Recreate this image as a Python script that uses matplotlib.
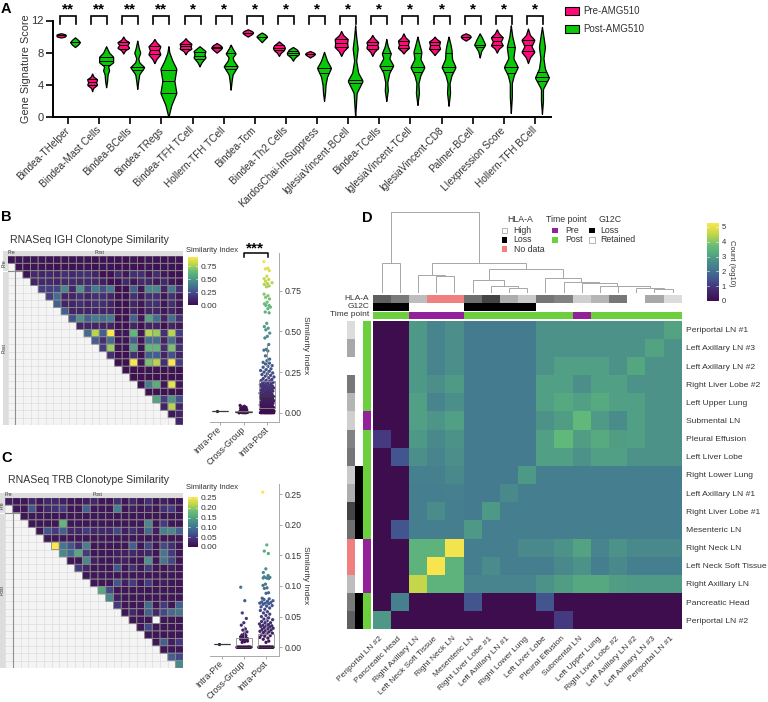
import numpy as np
import matplotlib
matplotlib.use("Agg")
import matplotlib.pyplot as plt
from matplotlib.patches import Rectangle
from matplotlib.colors import LinearSegmentedColormap
from matplotlib.transforms import ScaledTranslation

plt.rcParams['font.family'] = ['Liberation Sans', 'DejaVu Sans']
W, H = 768, 702
TXT = '#333333'

# Colour scale as it appears in the picture (muted viridis)
CMAP_POS = [0, .2, .28, .42, .52, .6, .7, .86, 1]
CMAP_RGB = [(62, 13, 78), (69, 58, 127), (66, 86, 143), (68, 123, 143), (76, 146, 137), (85, 168, 128),
            (100, 187, 122), (195, 215, 75), (251, 230, 78)]
CMAP = LinearSegmentedColormap.from_list(
    'muted', [(p, tuple(v / 255 for v in c)) for p, c in zip(CMAP_POS, CMAP_RGB)])

# ---------- Panel A data ----------
GENESETS = ['Bindea-THelper', 'Bindea-Mast Cells', 'Bindea-BCells', 'Bindea-TRegs', 'Bindea-TFH TCell',
            'Hollern-TFH TCell', 'Bindea-Tcm', 'Bindea-Th2 Cells', 'KardosChai-ImSuppress', 'IglesiaVincent-BCell',
            'Bindea-TCells', 'IglesiaVincent-TCell', 'IglesiaVincent-CD8', 'Palmer-BCell', 'LIexpression Score',
            'Hollern-TFH BCell']
SIG_A = ['**', '**', '**', '**', '*', '*', '*', '*', '*', '*', '*', '*', '*', '*', '*', '*']
PRE_Y = [[9.9, 10.0, 10.3, 10.4], [3.2, 3.6, 4.0, 4.3, 4.7, 5.0, 5.4], [7.9, 8.3, 8.6, 8.95, 9.3, 9.6, 10.0],
         [6.7, 7.2, 7.8, 8.3, 8.8, 9.3, 9.7], [7.8, 8.2, 8.5, 8.8, 9.1, 9.5, 9.8], [8.0, 8.4, 8.65, 8.9, 9.2],
         [10.0, 10.3, 10.5, 10.7, 10.9], [7.6, 8.0, 8.3, 8.6, 8.9, 9.4], [7.4, 7.7, 7.85, 8.0, 8.2],
         [7.6, 8.2, 8.7, 9.2, 9.7, 10.2, 10.7], [7.6, 8.1, 8.6, 9.0, 9.3, 9.8, 10.2],
         [7.9, 8.2, 8.6, 9.0, 9.5, 9.9, 10.4], [7.7, 8.0, 8.5, 8.9, 9.4, 9.7, 10.0], [9.5, 9.8, 10.0, 10.2, 10.4],
         [8.0, 8.5, 8.9, 9.4, 9.9, 10.4, 10.9], [6.7, 7.4, 8.1, 8.8, 9.6, 10.2, 11.0]]
PRE_W = [[0, 4.5, 4.5, 0], [0, 1, 5, 4, 5, 1.5, 0], [0, 2, 6, 4, 6, 2, 0], [0, 2, 6, 4.5, 6, 2, 0],
         [0, 2, 6, 5, 6, 2, 0], [0, 4, 5.5, 4, 0], [0, 4, 5.5, 4, 0], [0, 2, 5, 6, 5, 0], [0, 4, 5, 4, 0],
         [0, 2.5, 6.5, 6, 6.5, 2, 0], [0, 2, 6, 5, 6, 2, 0], [0, 2, 5.5, 4.5, 5.5, 2, 0], [0, 2, 5.5, 4.5, 5.5, 2, 0],
         [0, 4, 5, 4, 0], [0, 2, 6, 4, 6, 2, 0], [0, 2, 6.5, 3.5, 6.5, 2, 0]]
PRE_Q = [[10.15], [3.95, 4.3, 4.7], [8.5, 8.95, 9.3], [7.8, 8.3, 8.8], [8.4, 8.8, 9.1], [8.6, 8.75], [10.45],
         [8.3, 8.6, 8.9], [7.85], [8.7, 9.2, 9.7], [8.5, 9.0, 9.3], [8.6, 9.0, 9.5], [8.5, 8.9, 9.3], [10.0],
         [8.9, 9.4, 9.9], [8.2, 8.9, 9.6]]
POST_Y = [[8.7, 9.0, 9.3, 9.6, 9.9], [3.7, 4.5, 5.3, 5.8, 6.3, 6.8, 7.5, 8.0, 8.8],
          [3.5, 4.5, 5.3, 6.2, 6.8, 7.3, 8.0, 8.6, 9.5], [0.0, 1.5, 3.0, 4.5, 6.0, 7.0, 8.0, 8.8],
          [6.3, 6.8, 7.4, 7.8, 8.2, 8.8], [3.4, 4.5, 5.3, 6.3, 7.0, 7.4, 7.9, 8.5, 9.0],
          [9.3, 9.7, 10.0, 10.3, 10.5], [7.0, 7.4, 7.8, 8.0, 8.4, 8.7], [2.0, 3.0, 4.0, 5.0, 6.1, 7.0, 8.1],
          [0.0, 2.0, 3.0, 4.5, 5.5, 7.0, 8.5, 10.0, 11.4], [2.0, 3.3, 4.3, 5.5, 6.4, 7.3, 7.9, 8.8, 9.7],
          [1.5, 3.0, 4.2, 5.2, 6.2, 7.2, 8.1, 9.0, 10.0], [1.4, 3.0, 4.2, 5.2, 6.2, 7.2, 8.3, 9.0, 10.0],
          [7.4, 8.2, 9.0, 9.7, 10.4], [0.5, 2.5, 4.2, 5.2, 6.2, 7.3, 8.7, 10.0, 11.4],
          [0.4, 2.0, 3.5, 4.9, 6.0, 7.3, 8.7, 10.0, 11.2]]
POST_W = [[0, 3, 5, 3, 0], [0, 1, 1.5, 3, 2, 7, 7, 3, 0], [0, 1, 2, 7, 2, 1, 3, 1.5, 0], [0, 3, 8, 6, 8, 4, 1, 0],
          [0, 2, 6, 5, 6, 0], [0, 1, 2, 7, 3, 2, 5, 2, 0], [0, 3, 5.5, 3, 0], [0, 2, 6, 6, 4, 0], [0, 1, 1.5, 3, 7, 3, 0],
          [0, 1, 1.5, 7.5, 3, 1, 2.5, 1, 0], [0, 1.5, 1, 3, 7, 3, 4.5, 1.5, 0], [0, 1.5, 1, 3, 7, 3, 4, 2, 0],
          [0, 1.5, 1, 3, 7, 3.5, 3, 2, 0], [0, 1.5, 5.5, 3, 0], [0, 1, 1, 3, 7, 2.5, 4, 1.5, 0], [0, 1, 1, 7, 3, 1.5, 3, 1.5, 0]]
POST_Q = [[9.3], [6.5, 7.0, 7.5], [5.9, 6.2], [3.0, 4.5, 5.9], [7.2, 7.6, 8.1], [6.0, 6.4, 7.9], [10.0],
          [7.7, 8.0, 8.2], [5.5, 6.1], [4.2, 4.6], [5.9, 6.3, 7.9], [5.6, 6.2, 8.0], [5.6, 6.2, 7.9], [8.7, 9.0],
          [5.5, 6.2, 8.7], [4.5, 5.0, 5.6]]

# ---------- Panel B data ----------
IGH_ROWS = [
 [.03,.03,.03,.03,.03,.03,.03,.03,.03,.03,.03,.02,.03,.02,.02,.02,.04,.02,.04,.03,.02,.03,.03],
 [.02,.02,.03,.03,.03,.02,.03,.02,.03,.03,.02,.03,.03,.02,.02,.03,.02,.04,.02,.03,.03,.02],
 [.03,.12,.1,.12,.1,.15,.12,.15,.15,.1,.02,.02,.13,.05,.15,.14,.05,.13,.05,.02,.02],
 [.1,.12,.12,.1,.12,.12,.12,.12,.12,.08,.02,.02,.12,.04,.12,.12,.05,.12,.05,.02],
 [.2,.2,.22,.45,.12,.5,.2,.4,.25,.4,.02,.02,.3,.05,.45,.45,.1,.4,.15],
 [.2,.35,.1,.1,.15,.1,.15,.15,.1,.02,.02,.15,.05,.15,.15,.05,.15,.05],
 [.3,.1,.1,.15,.1,.15,.15,.1,.02,.02,.1,.05,.15,.15,.05,.15,.05],
 [.3,.1,.1,.1,.1,.1,.1,.02,.02,.1,.02,.1,.1,.05,.1,.05],
 [.25,.5,.3,.4,.35,.4,.02,.02,.3,.05,.55,.35,.1,.35,.15],
 [.1,.1,.1,.1,.1,.02,.02,.1,.02,.1,.1,.02,.1,.05],
 [.35,.8,.3,.95,.05,.05,.65,.05,.8,.75,.15,.8,.2],
 [.3,.15,.35,.03,.03,.3,.03,.35,.35,.1,.35,.1],
 [.2,.75,.03,.03,.55,.03,.65,.65,.15,.7,.15],
 [.15,.02,.02,.15,.02,.3,.3,.1,.25,.1],
 [.02,.02,.95,.05,.7,.8,.15,.95,.2],
 [.02,.02,.02,.03,.03,.02,.03,.02],
 [.02,.02,.02,.02,.02,.02,.02],
 [.02,.4,.6,.05,.9,.05],
 [.02,.02,.02,.02,.02],
 [.55,.2,.5,.25],
 [.1,.8,.1],
 [.05,.1],
 [.1]]
IGH_PRE = [0.008]
IGH_CROSS = [.045, .04, .036, .033, .03, .028, .025, .023, .02, .018, .016, .015, .013, .012, .011, .01, .01, .009,
             .008, .007, .006, .006, .005, .005, .004, .004, .003, .003, .002, .002, .001, .001, 0, 0, 0, 0]
IGH_POST = [.93, .89, .885, .875, .84, .825, .82, .81, .80, .795, .79, .78, .775, .73, .72, .71, .70, .68, .67, .66,
            .66, .65, .64, .62, .615, .55, .53, .52, .51, .49, .47, .46, .42, .39, .385, .38, .35, .33, .32, .31, .305,
            .30, .29, .285, .28, .27, .265, .26, .255, .25, .245, .24, .235, .23, .225, .22, .215, .21, .205, .20, .198,
            .195, .19, .187, .184, .18, .178, .175, .172, .17, .168, .165, .163, .16, .158, .155, .153, .15, .148, .145,
            .143, .14, .138, .135, .133, .13, .128, .125, .123, .12, .118, .115, .113, .11, .108, .105, .103, .10, .098,
            .096, .094, .092, .09, .088, .086, .084, .082, .08, .078, .076, .074, .072, .07, .068, .066, .064, .062, .06,
            .058, .056, .054, .052, .05, .048, .046, .044, .042, .04, .038, .036, .034, .032, .03, .028, .026, .024, .022,
            .02, .019, .018, .016, .015, .014, .012, .011, .01, .009, .008, .007, .006, .005, .004, .003, .002, .001,
            0, 0, 0, 0, 0, 0, 0, 0, 0, 0, 0, 0]
IGH_Q1 = [.008, .002, .03]
IGH_MED = [.008, .005, .10]
IGH_Q3 = [.008, .008, .195]
IGH_HI = [.008, .012, .42]

# ---------- Panel C data ----------
TRB_ROWS = [
 [.02,.01,.01,.03,.01,.03,.03,.02,.01,.01,.02,.03,.01,.01,.04,.01,.03,.01,.04,.01,.02,.01,.01],
 [.01,.01,.07,.01,.03,.04,.05,.01,.01,.08,.01,.01,.01,.11,.01,.02,.01,.02,.01,.04,.05,.01],
 [.01,.01,.01,.01,.01,.01,.01,.01,.01,.01,.01,.01,.01,.01,.01,.01,.01,.01,.01,.01,.01],
 [.01,.01,.01,.01,.17,.01,.01,.01,.01,.01,.01,.01,.01,.01,.01,.12,.01,.05,.01,.01],
 [.01,.07,.05,.08,.03,.03,.05,.03,.03,.03,.06,.02,.04,.02,.09,.02,.11,.12,.08],
 [.01,.01,.01,.01,.01,.01,.01,.01,.01,.01,.01,.01,.01,.01,.01,.01,.01,.01],
 [.25,.1,.07,.04,.11,.01,.01,.01,.01,.01,.08,.01,.06,.01,.06,.04,.01],
 [.12,.09,.15,.05,.01,.01,.01,.02,.02,.03,.02,.03,.01,.1,.05,.01],
 [.01,.01,.12,.02,.01,.01,.02,.02,.01,.01,.13,.01,.1,.06,.01],
 [.05,.03,.01,.01,.01,.07,.01,.04,.01,.05,.01,.01,.02,.01],
 [.01,.01,.01,.01,.01,.01,.01,.01,.01,.01,.01,.01,.01],
 [.01,.01,.01,.07,.02,.05,.01,.05,.01,.02,.01,.01],
 [.15,.06,.01,.01,.01,.01,.01,.01,.01,.01,.01],
 [.12,.02,.01,.01,.01,.01,.01,.01,.01,.01],
 [.05,.01,.01,.01,.09,.01,.05,.01,.08],
 [.01,.03,.01,.08,.03,.06,.09,.1],
 [.01,.01,.01,np.nan,.01,.01,.01],
 [.01,.06,.01,.01,.01,.01],
 [.01,.01,.01,.01,.01],
 [.01,.08,.02,.05],
 [.01,.01,.01],
 [.08,.06],
 [.12]]
TRB_PRE = [0.006]
TRB_CROSS = [.098, .076, .056, .047, .04, .036, .03, .028, .025, .022, .02, .019, .018, .017, .016, .015, .014, .014,
             .013, .012, .011, .01, .009, .008] + [0] * 22
TRB_POST = [.253, .167, .157, .153, .128, .122, .117, .115, .114, .113, .113, .112, .103, .101, .097, .096, .089, .088,
            .080, .079, .078, .076, .075, .074, .073, .072, .072, .071, .070, .068, .067, .066, .064, .062, .06, .058,
            .056, .054, .052, .05, .048, .046, .045, .043, .042, .04, .04, .038, .037, .036, .035, .035, .034, .033,
            .032, .031, .03, .029, .028, .027, .026, .025, .024, .023, .022, .02, .019, .018, .016, .015, .013, .01,
            .008] + [0] * 26
TRB_Q1 = [.006, 0, 0]
TRB_MED = [.006, 0, 0]
TRB_Q3 = [.006, .015, .022]
TRB_HI = [.006, .035, .05]
CATS = ['Intra-Pre', 'Cross-Group', 'Intra-Post']

# ---------- Panel D data ----------
COLS_D = ['Periportal LN #2', 'Pancreatic Head', 'Right Axillary LN', 'Left Neck Soft Tissue', 'Right Neck LN',
          'Mesenteric LN', 'Right Liver Lobe #1', 'Left Axillary LN #1', 'Right Lower Lung', 'Left Liver Lobe',
          'Pleural Effusion', 'Submental LN', 'Left Upper Lung', 'Right Liver Lobe #2', 'Left Axillary LN #2',
          'Left Axillary LN #3', 'Periportal LN #1']
ROWS_D = COLS_D[::-1]
COUNTS = [
 [0,0,2.7,2.3,2.5,2.1,2.1,2.1,2.1,2.6,2.6,2.6,2.6,2.6,2.6,2.6,2.9],
 [0,0,2.7,2.3,2.5,2.1,2.1,2.1,2.1,2.6,2.6,2.6,2.6,2.6,2.6,2.9,2.6],
 [0,0,2.7,2.3,2.5,2.1,2.1,2.1,2.1,2.6,2.85,2.85,2.85,2.6,2.95,2.6,2.6],
 [0,0,2.7,2.5,2.75,2.1,2.1,2.1,2.1,2.85,2.85,2.5,2.85,2.85,2.6,2.6,2.6],
 [0,0,2.85,2.3,2.5,2.1,2.1,2.1,2.1,2.85,3.0,2.85,3.05,2.85,2.85,2.6,2.6],
 [0,0,2.85,2.65,2.85,2.1,2.1,2.1,2.1,2.6,2.8,3.4,2.75,2.45,2.85,2.6,2.6],
 [1.0,0,2.7,2.4,2.6,2.1,2.1,2.1,2.1,2.85,3.4,2.8,3.05,2.8,2.85,2.6,2.6],
 [0,1.4,2.5,2.3,2.5,2.1,2.1,2.1,2.1,2.85,2.85,2.6,2.85,2.85,2.6,2.6,2.6],
 [0,0,2.2,2.2,2.4,2.1,2.1,2.1,2.7,2.15,2.15,2.15,2.15,2.15,2.15,2.15,2.15],
 [0,0,2.15,2.15,2.2,2.1,2.1,2.4,2.15,2.15,2.15,2.15,2.15,2.15,2.15,2.15,2.15],
 [0,0,2.15,2.45,2.15,2.1,2.7,2.15,2.15,2.15,2.15,2.15,2.15,2.15,2.15,2.15,2.15],
 [0,1.4,2.15,2.15,2.15,2.7,2.15,2.15,2.15,2.15,2.15,2.15,2.15,2.15,2.15,2.15,2.15],
 [0,0,3.3,3.3,4.9,2.15,2.15,2.15,2.4,2.4,2.6,2.9,2.3,2.6,2.4,2.4,2.4],
 [0,0,3.3,4.95,3.3,2.15,2.45,2.15,2.15,2.15,2.4,2.6,2.15,2.4,2.15,2.15,2.15],
 [0,0,4.3,3.3,3.3,2.3,2.3,2.3,2.3,2.6,2.8,3.0,3.0,2.8,2.75,2.75,2.75],
 [0,2.2,0,0,0,1.4,0,0,0,1.4,0,0,0,0,0,0,0],
 [2.7,0,0,0,0,0,0,0,0,0,1.0,0,0,0,0,0,0]]
HLA = ['#5f5f5f', '#7a7a7a', '#bdbdbd', '#f08080', '#f08080', '#6e6e6e', '#444444', '#adadad', '#cacaca', '#757575',
       '#828282', '#cfcfcf', '#b5b5b5', '#777777', '#ffffff', '#a8a8a8', '#dcdcdc']
G12C = ['#000000', '#000000', '#ffffff', '#ffffff', '#ffffff', '#000000', '#000000', '#000000', '#000000', '#ffffff',
        '#ffffff', '#ffffff', '#ffffff', '#ffffff', '#ffffff', '#ffffff', '#ffffff']
PURPLE, GREEN = '#92219a', '#6ccf3e'
TIMEPOINT = [GREEN, GREEN, PURPLE, PURPLE, PURPLE, GREEN, GREEN, GREEN, GREEN, GREEN, GREEN, PURPLE, GREEN, GREEN,
             GREEN, GREEN, GREEN]
# merges: (left node, right node, height); ids 0-16 are leaves, 17+ are merges in order
MERGES = [(0, 1, .354), (3, 4, .192), (2, 18, .208), (7, 8, .042), (6, 20, .075), (5, 21, .142),
          (15, 16, .029), (14, 23, .042), (13, 24, .071), (12, 25, .075), (11, 26, .104), (10, 27, .117),
          (9, 28, .167), (22, 29, .279), (19, 30, .362), (17, 31, 1.0)]


# ---------- helpers ----------
fig = plt.figure(figsize=(W / 100, H / 100), dpi=100)


def axpx(x0, y0, x1, y1, **kw):
    return fig.add_axes([x0 / W, 1 - y1 / H, (x1 - x0) / W, (y1 - y0) / H], **kw)


def ftext(x, y, s, **kw):
    kw.setdefault('color', TXT)
    kw.setdefault('va', 'center')
    return fig.text(x / W, 1 - y / H, s, **kw)


def frect(x0, y0, x1, y1, fc, ec='none', lw=0):
    fig.add_artist(Rectangle((x0 / W, 1 - y1 / H), (x1 - x0) / W, (y1 - y0) / H, facecolor=fc, edgecolor=ec,
                             linewidth=lw, transform=fig.transFigure))


def shift_labels(labels, dx_px):
    off = ScaledTranslation(dx_px / 100, 0, fig.dpi_scale_trans)
    for lab in labels:
        lab.set_transform(lab.get_transform() + off)


PX = 1 / 31.13


def violin(ax, xc, ys, ws, qs, color):
    ys, ws = np.array(ys, float), np.array(ws, float) * PX
    # round the outline of the sketched profile
    yy = np.linspace(ys[0], ys[-1], 121)
    ww = np.interp(yy, ys, ws)
    k = max(3, int(0.15 / (yy[1] - yy[0])) | 1)
    pad = np.pad(ww, k // 2, mode='edge')
    ww = np.convolve(pad, np.ones(k) / k, mode='valid')
    ww[0] = ww[-1] = 0
    ax.fill_betweenx(yy, xc - ww, xc + ww, facecolor=color, edgecolor='black', linewidth=0.9, zorder=3, clip_on=False)
    for q in qs:
        w = np.interp(q, yy, ww)
        ax.plot([xc - w, xc + w], [q, q], color='black', lw=0.7, zorder=4, solid_capstyle='butt')


# ---------- Panel A ----------
ax = axpx(52.7, 20.5, 551, 117)
for i in range(len(GENESETS)):
    violin(ax, i - 7 * PX, PRE_Y[i], PRE_W[i], PRE_Q[i], '#ff0a78')
    violin(ax, i + 7 * PX, POST_Y[i], POST_W[i], POST_Q[i], '#09c909')
    ax.plot([i - 8 * PX, i - 8 * PX, i + 8 * PX, i + 8 * PX], [11.55, 12.55, 12.55, 11.55], color='black', lw=1.2,
            clip_on=False, solid_joinstyle='miter')
    ax.text(i, 12.45, SIG_A[i], ha='center', va='bottom', fontsize=11, fontweight='bold', color='black')
ax.set_xlim((52.7 - 68) / 31.13, (551 - 68) / 31.13)
ax.set_ylim(0, 12)
ax.set_yticks([0, 4, 8, 12])
ax.set_xticks(range(len(GENESETS)))
ax.set_xticklabels(GENESETS, rotation=45, ha='right', va='center', rotation_mode='anchor', fontsize=7.2, color=TXT)
shift_labels(ax.get_xticklabels(), 2)
ax.tick_params(axis='x', length=5, width=1.2, pad=3.5)
ax.tick_params(axis='y', length=5, width=1.2, pad=1.5, labelsize=8, labelcolor=TXT)
for s in ['top', 'right']:
    ax.spines[s].set_visible(False)
for s in ['left', 'bottom']:
    ax.spines[s].set_linewidth(1.4)
ax.set_ylabel('Gene Signature Score', fontsize=7.8, color=TXT, labelpad=0)

frect(564.5, 7, 578.5, 14.5, '#ff0a78', 'black', 0.8)
frect(564.5, 25, 578.5, 32.5, '#09c909', 'black', 0.8)
ftext(583, 10.5, 'Pre-AMG510', fontsize=7)
ftext(583, 29, 'Post-AMG510', fontsize=7)

for label, x, y in [('A', 1, 9), ('B', 1, 217), ('C', 1, 458), ('D', 362, 218)]:
    ftext(x, y, label, fontsize=10.5, fontweight='bold', color='black')


# ---------- Panels B, C heatmaps ----------
def tri_heat(rows, x0, y0, x1, y1, vmax):
    n = len(rows)
    m = np.full((n, n), np.nan)
    for r, vals in enumerate(rows):
        m[r, r:] = vals
    ax = axpx(x0, y0, x1, y1)
    ax.set_facecolor('#f4f4f4')
    ax.set_xticks(range(n + 1))
    ax.set_yticks(range(n + 1))
    ax.grid(True, color='#dcdcdc', lw=0.5, zorder=0)
    ax.set_axisbelow(True)
    ax.tick_params(length=0, labelbottom=False, labelleft=False)
    ax.pcolor(np.arange(n + 1), np.arange(n + 1), np.ma.masked_invalid(m), cmap=CMAP, vmin=0, vmax=vmax,
              edgecolors='#8a8a8a', linewidth=0.6, zorder=2)
    ax.set_xlim(0, n)
    ax.set_ylim(n, 0)
    ax.axvline(1, color='#8f8f8f', lw=0.8, zorder=1)
    ax.axhline(2, color='#8f8f8f', lw=0.8, zorder=1)
    for s in ax.spines.values():
        s.set_visible(False)
    cw = (x1 - x0) / n
    ch = (y1 - y0) / n
    sz = 4
    frect(x0 - sz - 1, y0 - sz - 1, x0, y0, '#dddddd')
    frect(x0, y0 - sz - 1, x0 + cw, y0, '#dddddd')
    frect(x0 + cw, y0 - sz - 1, x1, y0, '#dddddd')
    frect(x0 - sz - 1, y0, x0, y0 + 2 * ch, '#dddddd')
    frect(x0 - sz - 1, y0 + 2 * ch + 1, x0, y1, '#dddddd')
    ftext(x0 + cw / 2, y0 - 3, 'Pre', fontsize=3.5, ha='center')
    ftext((x0 + cw + x1) / 2, y0 - 3, 'Post', fontsize=3.5, ha='center')
    ftext(x0 - 3, y0 + ch, 'Pre', fontsize=3.5, ha='center', rotation=90)
    ftext(x0 - 3, (y0 + 2 * ch + y1) / 2, 'Post', fontsize=3.5, ha='center', rotation=90)


tri_heat(IGH_ROWS, 7.6, 256, 183.3, 425, 0.95)
tri_heat(TRB_ROWS, 5, 497.7, 183.3, 668, 0.25)
ftext(10, 240, 'RNASeq IGH Clonotype Similarity', fontsize=7.6)
ftext(8, 480, 'RNASeq TRB Clonotype Similarity', fontsize=7.6)


def cbar(x0, y0, x1, y1, vmin, vmax, ticks, fmt, title=None, ty=None, lab=6):
    ax = axpx(x0, y0, x1, y1)
    grad = np.linspace(vmax, vmin, 256)[:, None]
    ax.imshow(grad, aspect='auto', cmap=CMAP, vmin=vmin, vmax=vmax, extent=[0, 1, vmin, vmax])
    ax.set_xticks([])
    ax.yaxis.tick_right()
    ax.set_yticks(ticks)
    ax.set_yticklabels([fmt % t for t in ticks], fontsize=lab, color=TXT)
    ax.tick_params(axis='y', length=0, pad=2)
    for s in ax.spines.values():
        s.set_visible(False)
    for t in ticks:
        ax.plot([0, .2], [t, t], color='white', lw=0.4)
        ax.plot([.8, 1], [t, t], color='white', lw=0.4)
    ax.set_xlim(0, 1)
    ax.set_ylim(vmin, vmax)
    if title:
        ftext(x0 - 2, ty, title, fontsize=5.5)


cbar(188, 257, 198, 305, 0, 0.935, [0, .25, .5, .75], '%.2f', 'Similarity Index', 250.5)
cbar(187.5, 497, 197.5, 547, -0.001, 0.255, [0, .05, .1, .15, .2, .25], '%.2f', 'Similarity Index', 487.5)


# ---------- strip plots ----------
def jitter(vals, spread):
    # low-discrepancy spread, narrowed where the points are sparse
    vals = np.asarray(vals, float)
    rng = max(vals.max(), 1e-6)
    seq = (np.arange(len(vals)) * 0.618034) % 1 - 0.5
    counts = np.array([(np.abs(vals - v) < 0.03 * rng).sum() for v in vals])
    return seq * 2 * spread * np.clip(counts / 10, 0.45, 1)


def strip(px, xlim, ylim, groups, q1, med, q3, hi, vmax, yticks, spreads, ytickfmt):
    ax = axpx(*px)
    for i, vals in enumerate(groups):
        ax.scatter(i + jitter(vals, spreads[i]), vals, c=vals, cmap=CMAP, vmin=0, vmax=vmax, s=5.5,
                   linewidths=0, zorder=2, clip_on=False)
    stats = [dict(med=med[i], q1=q1[i], q3=q3[i], whislo=q1[i], whishi=hi[i], fliers=[]) for i in range(3)]
    ax.bxp(stats, positions=[0, 1, 2], widths=0.7, showcaps=False, showfliers=False, manage_ticks=False,
           boxprops=dict(color='#8f8f8f', lw=0.6), whiskerprops=dict(color='#8f8f8f', lw=0.6),
           medianprops=dict(color='#3a3a3a', lw=0.9), zorder=3)
    ax.set_xlim(*xlim)
    ax.set_ylim(*ylim)
    ax.yaxis.tick_right()
    ax.set_yticks(yticks)
    ax.set_yticklabels([ytickfmt % t for t in yticks])
    ax.set_xticks([0, 1, 2])
    ax.set_xticklabels(CATS, rotation=45, ha='right', va='center', rotation_mode='anchor', fontsize=6.3, color=TXT)
    shift_labels(ax.get_xticklabels(), 2)
    ax.tick_params(axis='y', length=2.5, width=0.6, color='#999999', labelsize=6.3, labelcolor=TXT, pad=1.5)
    ax.tick_params(axis='x', length=2.5, width=0.6, color='#999999', pad=2)
    ax.spines['top'].set_visible(False)
    ax.spines['left'].set_visible(False)
    ax.spines['right'].set_color('#aaaaaa')
    ax.spines['bottom'].set_color('#aaaaaa')
    ax.spines['right'].set_linewidth(0.7)
    ax.spines['bottom'].set_linewidth(0.7)
    ax.patch.set_alpha(0)
    return ax


axb = strip((210, 253, 279, 422), (-0.43, 2.51), (-0.057, 0.983), [IGH_PRE, IGH_CROSS, IGH_POST], IGH_Q1, IGH_MED,
            IGH_Q3, IGH_HI, 0.95, [0, .25, .5, .75], [0.3, 0.33, 0.3], '%.2f')
axc = strip((210, 484, 279, 656), (-0.545, 2.59), (-0.0143, 0.2665), [TRB_PRE, TRB_CROSS, TRB_POST], TRB_Q1, TRB_MED,
            TRB_Q3, TRB_HI, 0.25, [0, .05, .1, .15, .2, .25], [0.3, 0.33, 0.33], '%.2f')
ftext(305, 345, 'Similarity Index', fontsize=6.1, rotation=270, ha='center')
ftext(305, 575, 'Similarity Index', fontsize=6.1, rotation=270, ha='center')
axb.plot([1, 1, 2.02, 2.02], [.96, .985, .985, .96], color='black', lw=1.1, clip_on=False)
axb.text(1.5, 0.965, '***', ha='center', va='bottom', fontsize=11, fontweight='bold', color='black')

# ---------- Panel D ----------
HX0, HX1, HY0, HY1 = 372.7, 681.7, 320.7, 629.3
axd = axpx(HX0, HY0, HX1, HY1)
axd.pcolormesh(np.array(COUNTS), cmap=CMAP, vmin=0, vmax=5, edgecolors='none')
axd.set_ylim(17, 0)
axd.set_xlim(0, 17)
axd.yaxis.tick_right()
axd.set_xticks(np.arange(17) + .5)
axd.set_yticks(np.arange(17) + .5)
axd.set_xticklabels(COLS_D, rotation=45, ha='right', va='center', rotation_mode='anchor', fontsize=6, color=TXT)
axd.set_yticklabels(ROWS_D, fontsize=6.1, color=TXT)
axd.tick_params(axis='x', length=0, pad=6)
axd.tick_params(axis='y', length=0, pad=3)
for s in axd.spines.values():
    s.set_visible(False)


def track(x0, y0, x1, y1, colors, vertical=False):
    a = axpx(x0, y0, x1, y1)
    n = len(colors)
    for i, c in enumerate(colors):
        if vertical:
            a.add_patch(Rectangle((0, i), 1, 1, facecolor=c, edgecolor='none'))
        else:
            a.add_patch(Rectangle((i, 0), 1, 1, facecolor=c, edgecolor='none'))
    a.set_xlim(0, 1 if vertical else n)
    a.set_ylim(n if vertical else 1, 0)
    a.axis('off')


track(HX0, 295, HX1, 303, HLA)
track(HX0, 303, HX1, 311, G12C)
track(HX0, 311.5, HX1, 319, TIMEPOINT)
track(346.7, HY0, 354.7, HY1, HLA[::-1], True)
track(354.7, HY0, 362.7, HY1, G12C[::-1], True)
track(362.7, HY0, 371, HY1, TIMEPOINT[::-1], True)
ftext(369, 299, 'HLA-A', fontsize=6, ha='right')
ftext(369, 307, 'G12C', fontsize=6, ha='right')
ftext(369, 315, 'Time point', fontsize=6, ha='right')

axdn = axpx(HX0, 211.7, HX1, 291.7)
axdn.set_xlim(0, 17)
axdn.set_ylim(0, 1)
axdn.axis('off')
node_x = [i + .5 for i in range(17)]
node_h = [0.0] * 17
for l, r, h in MERGES:
    axdn.plot([node_x[l], node_x[l], node_x[r], node_x[r]], [node_h[l], h, h, node_h[r]], color='#a6a6a6', lw=0.7,
              clip_on=False, solid_joinstyle='miter')
    node_x.append((node_x[l] + node_x[r]) / 2)
    node_h.append(h)

# Legend of panel D
ftext(520, 219, 'HLA-A', fontsize=6.3, ha='center')
ftext(566.7, 219, 'Time point', fontsize=6.3, ha='center')
ftext(609.7, 219, 'G12C', fontsize=6.3, ha='center')
for yy, c, ec, s in [(230.7, '#ffffff', '#999999', 'High'), (240, '#000000', 'none', 'Loss'),
                     (249, '#f08080', 'none', 'No data')]:
    frect(501.5, yy - 2.7, 507, yy + 2.7, c, ec, 0.5)
    ftext(513.7, yy, s, fontsize=6.3)
for yy, c, s in [(230.7, PURPLE, 'Pre'), (240, GREEN, 'Post')]:
    frect(552, yy - 2.7, 558, yy + 2.7, c)
    ftext(565, yy, s, fontsize=6.3)
for yy, c, ec, s in [(230.7, '#000000', 'none', 'Loss'), (240, '#ffffff', '#999999', 'Retained')]:
    frect(589, yy - 2.7, 594.7, yy + 2.7, c, ec, 0.5)
    ftext(600.7, yy, s, fontsize=6.3)

cbar(706.7, 223, 718.7, 301, 0, 5.27, [0, 1, 2, 3, 4, 5], '%d', lab=5.5)
ftext(731, 263, 'Count (log10)', fontsize=5.5, rotation=270, ha='center')

fig.savefig('out.png', dpi=100)
